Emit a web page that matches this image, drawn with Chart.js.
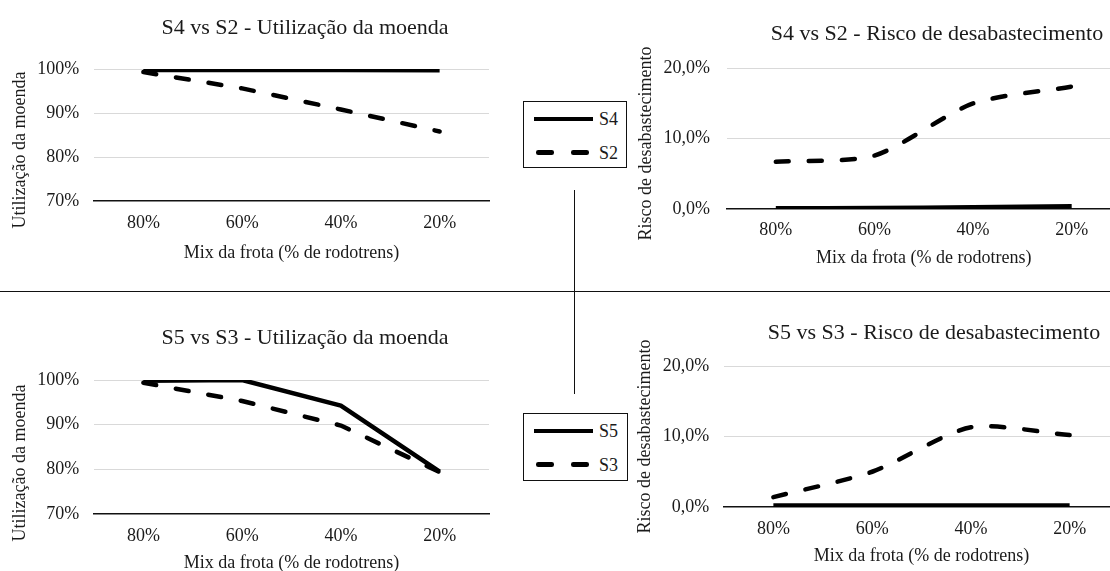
<!DOCTYPE html>
<html lang="pt">
<head>
<meta charset="utf-8">
<title>Mix da frota – utilização da moenda e risco de desabastecimento</title>
<script src="https://cdn.jsdelivr.net/npm/chart.js@4/dist/chart.umd.min.js"></script>
<style>
  html, body { margin: 0; padding: 0; background: #fff; overflow: hidden; }
  #stage { position: relative; width: 1110px; height: 571px; overflow: hidden; background: #fff;
           font-family: 'Liberation Serif', 'Times New Roman', serif; color: #1a1a1a; }
  #stage canvas { position: absolute; }
  .rule { position: absolute; background: #111; }
  .legend { position: absolute; border: 1px solid #111; box-sizing: border-box; background: #fff; }
  .legend .row { position: absolute; left: 0; right: 0; height: 0; }
  .legend .seg { position: absolute; height: 4.5px; margin-top: -2.25px; background: #000; border-radius: 2.25px; }
  .legend .txt { position: absolute; left: 75px; top: -11px; font-size: 18px; line-height: 22px; }
</style>
</head>
<body>
<div id="stage">
  <canvas id="c1"></canvas>
  <canvas id="c2"></canvas>
  <canvas id="c3"></canvas>
  <canvas id="c4"></canvas>
  <div class="rule" style="left:0; top:291px; width:1110px; height:1.3px;"></div>
  <div class="rule" style="left:573.5px; top:190px; width:1.3px; height:204px;"></div>
  <div class="legend" id="leg1" style="left:523px; top:101px; width:104px; height:67px;"></div>
  <div class="legend" id="leg2" style="left:523px; top:413px; width:105px; height:68px;"></div>
</div>
<script>
// Categories: share of road-train trucks in the fleet mix
const categories = ['80%', '60%', '40%', '20%'];

// Mill utilisation (%)
const s4Moenda = [99.8, 99.8, 99.8, 99.7];
const s2Moenda = [99.3, 95.6, 90.8, 85.8];
const s5Moenda = [99.85, 100.0, 94.25, 79.5];
const s3Moenda = [99.4, 95.3, 89.8, 79.4];

// Supply shortage risk (%)
const s4Risco = [0.1, 0.15, 0.25, 0.4];
const s2Risco = [6.7, 7.6, 15.0, 17.4];
const s5Risco = [0.2, 0.2, 0.2, 0.2];
const s3Risco = [1.4, 5.0, 11.3, 10.2];

// Tick labels
const moendaTicks = ['70%', '80%', '90%', '100%'];
const riscoTicks = ['0,0%', '10,0%', '20,0%'];

// Series names
const topSeries = ['S4', 'S2'];
const bottomSeries = ['S5', 'S3'];

const FONT = "'Liberation Serif', 'Times New Roman', serif";
const TEXT = '#1a1a1a';
Chart.defaults.font.family = FONT;
Chart.defaults.color = TEXT;

const solidStyle = { borderColor: '#000', borderWidth: 4.5, borderCapStyle: 'butt', borderJoinStyle: 'round', pointRadius: 0, pointHoverRadius: 0, fill: false };
const dashStyle = { borderColor: '#000', borderWidth: 4.5, borderDash: [13, 20], borderCapStyle: 'round', borderJoinStyle: 'round', pointRadius: 0, pointHoverRadius: 0, fill: false };

// Rotated value-axis title placed at a fixed spot in the canvas
const sideTitle = {
  id: 'sideTitle',
  afterDraw(chart, args, opts) {
    const ctx = chart.ctx;
    ctx.save();
    ctx.translate(opts.x, opts.y);
    ctx.rotate(-Math.PI / 2);
    ctx.font = "18px " + FONT;
    ctx.fillStyle = TEXT;
    ctx.textAlign = 'center';
    ctx.textBaseline = 'middle';
    ctx.fillText(opts.text, 0, 0);
    ctx.restore();
  }
};

function makeChart(id, box, cfg) {
  const cv = document.getElementById(id);
  cv.width = box.w; cv.height = box.h;
  cv.style.left = box.x + 'px'; cv.style.top = box.y + 'px';
  cv.style.width = box.w + 'px'; cv.style.height = box.h + 'px';
  return new Chart(cv, {
    type: 'line',
    plugins: [sideTitle],
    data: {
      labels: categories,
      datasets: [
        Object.assign({ label: cfg.names[0], data: cfg.solid, tension: cfg.tension }, solidStyle),
        Object.assign({ label: cfg.names[1], data: cfg.dashed, tension: cfg.tension }, dashStyle)
      ]
    },
    options: {
      responsive: false,
      animation: false,
      devicePixelRatio: 1,
      layout: { padding: 0 },
      plugins: {
        legend: { display: false },
        tooltip: { enabled: false },
        title: {
          display: true, text: cfg.title, color: TEXT,
          font: { size: 22, weight: 'normal', lineHeight: 1.2 },
          padding: { top: cfg.titlePad[0], bottom: cfg.titlePad[1] }
        },
        sideTitle: { text: cfg.yTitle, x: cfg.yTitlePos[0], y: cfg.yTitlePos[1] }
      },
      scales: {
        x: {
          offset: true,
          grid: { display: false, drawTicks: false },
          border: { display: true, color: '#111', width: 1.5 },
          ticks: { padding: cfg.xTickPad, color: TEXT, font: { size: 18, lineHeight: 1.2 } },
          title: { display: true, text: 'Mix da frota (% de rodotrens)', color: TEXT,
                   font: { size: 18, lineHeight: 1.2 }, padding: { top: 0, bottom: cfg.xTitlePad } },
          afterFit: (s) => { s.height = cfg.xHeight; }
        },
        y: {
          min: cfg.min, max: cfg.max,
          grid: {
            drawTicks: false, lineWidth: 1,
            color: (c) => (c.tick && c.tick.value === cfg.min) ? 'rgba(0,0,0,0)' : '#d9d9d9'
          },
          border: { display: false },
          ticks: {
            stepSize: 10, padding: cfg.yTickPad, color: TEXT, font: { size: 18, lineHeight: 1.2 },
            callback: (v, i) => cfg.tickLabels[i]
          },
          title: { display: false },
          afterFit: (s) => { s.width = cfg.yWidth; }
        },
        // empty right-hand margin so the title stays centred on the whole chart box
        margin: {
          type: 'linear', position: 'right', min: 0, max: 1,
          grid: { display: false, drawTicks: false },
          border: { display: false },
          ticks: { display: false },
          afterFit: (s) => { s.width = cfg.padRight; }
        }
      }
    }
  });
}

makeChart('c1', { x: 0, y: 0, w: 610, h: 270 }, {
  title: 'S4 vs S2 - Utilização da moenda', yTitle: 'Utilização da moenda', yTitlePos: [20, 150],
  names: topSeries, solid: s4Moenda, dashed: s2Moenda, tension: 0,
  min: 70, max: 100, tickLabels: moendaTicks,
  padRight: 121, titlePad: [15.5, 27.1], yWidth: 94, yTickPad: 14.7,
  xHeight: 69, xTickPad: 11.5, xTitlePad: 5.9
});

makeChart('c2', { x: 620, y: 0, w: 634, h: 280 }, {
  title: 'S4 vs S2 - Risco de desabastecimento', yTitle: 'Risco de desabastecimento', yTitlePos: [26.7, 143.5],
  names: topSeries, solid: s4Risco, dashed: s2Risco, tension: 0.25,
  min: 0, max: 20, tickLabels: riscoTicks,
  padRight: 133, titlePad: [21.5, 20.4], yWidth: 106.5, yTickPad: 16.5,
  xHeight: 71, xTickPad: 10.2, xTitlePad: 10.9
});

makeChart('c3', { x: 0, y: 292, w: 610, h: 300 }, {
  title: 'S5 vs S3 - Utilização da moenda', yTitle: 'Utilização da moenda', yTitlePos: [20, 171],
  names: bottomSeries, solid: s5Moenda, dashed: s3Moenda, tension: 0,
  min: 70, max: 100, tickLabels: moendaTicks,
  padRight: 121, titlePad: [33.5, 28.1], yWidth: 94, yTickPad: 14.7,
  xHeight: 78, xTickPad: 11.2, xTitlePad: 17.9
});

makeChart('c4', { x: 620, y: 292, w: 628, h: 300 }, {
  title: 'S5 vs S3 - Risco de desabastecimento', yTitle: 'Risco de desabastecimento', yTitlePos: [25, 144.5],
  names: bottomSeries, solid: s5Risco, dashed: s3Risco, tension: 0.25,
  min: 0, max: 20, tickLabels: riscoTicks,
  padRight: 129, titlePad: [28, 19.6], yWidth: 104, yTickPad: 14.7,
  xHeight: 85, xTickPad: 11.5, xTitlePad: 24.5
});

// Shared legends: one solid and one dashed sample per pair of series
function buildLegend(id, names) {
  const box = document.getElementById(id);
  const rows = [17, 50.5];
  names.forEach((name, i) => {
    const row = document.createElement('div');
    row.className = 'row';
    row.style.top = rows[i] + 'px';
    const segs = i === 0 ? [[10, 59]] : [[12, 18], [47, 18]];
    segs.forEach(([l, w]) => {
      const s = document.createElement('div');
      s.className = 'seg';
      s.style.left = l + 'px'; s.style.width = w + 'px';
      if (i === 0) s.style.borderRadius = '0';
      row.appendChild(s);
    });
    const t = document.createElement('div');
    t.className = 'txt';
    t.textContent = name;
    row.appendChild(t);
    box.appendChild(row);
  });
}
buildLegend('leg1', topSeries);
buildLegend('leg2', bottomSeries);
</script>
</body>
</html>
